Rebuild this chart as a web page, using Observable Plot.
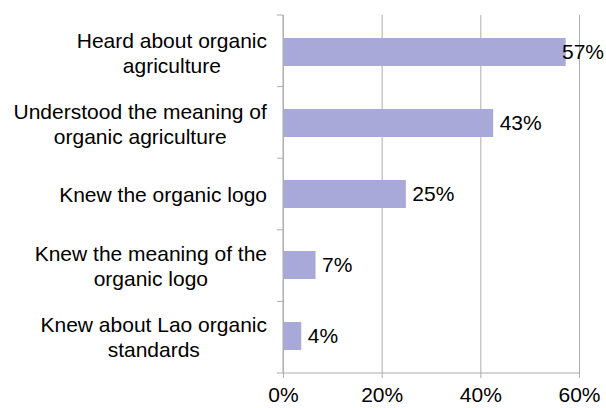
<!DOCTYPE html>
<html>
<head>
<meta charset="utf-8">
<script src="https://cdn.jsdelivr.net/npm/d3@7"></script>
<script src="https://cdn.jsdelivr.net/npm/@observablehq/plot@0.6"></script>
<style>
  body { margin: 0; background: #fff; }
  #chart svg { display: block; }
</style>
</head>
<body>
<div id="chart"></div>
<script>
// Data
const categories = [
  "Heard about organic\nagriculture",
  "Understood the meaning of\norganic agriculture",
  "Knew the organic logo",
  "Knew the meaning of the\norganic logo",
  "Knew about Lao organic\nstandards"
];
const values = [57.3, 42.6, 24.9, 6.6, 3.7];
const valueLabels = ["57%", "43%", "25%", "7%", "4%"];
const xTicks = [0, 20, 40, 60];
const xDomain = [0, 60];

const data = categories.map((c, i) => ({category: c, value: values[i], label: valueLabels[i]}));

const gray = "#adadad";
const font = "'Liberation Sans', Arial, sans-serif";
const fs = 21;

const frameMark = (index, scales, vals, dims) => {
  const g = d3.create("svg:g").attr("stroke", gray).attr("stroke-width", 1).attr("fill", "none");
  const top = dims.marginTop, bottom = dims.height - dims.marginBottom;
  const x0 = scales.x(xDomain[0]), x1 = scales.x(xDomain[1]);
  const n = categories.length, step = (bottom - top) / n;
  for (let k = 0; k <= n; k++) {
    const yy = top + k * step;
    g.append("line").attr("x1", x0 - 6).attr("x2", x0).attr("y1", yy).attr("y2", yy);
  }
  g.append("line").attr("x1", x0).attr("x2", x1).attr("y1", bottom).attr("y2", bottom);
  g.append("line").attr("x1", x0).attr("x2", x0).attr("y1", top).attr("y2", bottom);
  return g.node();
};

const chart = Plot.plot({
  width: 606,
  height: 408,
  marginLeft: 283,
  marginRight: 27,
  marginTop: 15,
  marginBottom: 35,
  style: {fontFamily: font, fontSize: fs + "px", color: "#000", background: "#fff", overflow: "visible"},
  x: {domain: xDomain, label: null},
  y: {domain: categories, paddingInner: 0.6, paddingOuter: 0.3, label: null},
  marks: [
    Plot.gridX(xTicks, {stroke: gray, strokeOpacity: 1}),
    Plot.barX(data, {x: "value", y: "category", fill: "#a9a9d9"}),
    frameMark,
    Plot.axisX(xTicks, {tickSize: 5, tickPadding: 9, stroke: gray, strokeOpacity: 1, tickFormat: d => d + "%", fontSize: fs, label: null}),
    Plot.axisY({tickSize: 0, tickPadding: 0, textAnchor: "middle", lineHeight: 1.18, fontSize: fs, label: null}),
    Plot.text(data, {x: "value", y: "category", text: "label", textAnchor: "start", dx: 6, fontSize: fs, fill: "#000"})
  ]
});

document.getElementById("chart").appendChild(chart);

// Layout adjustment: right-align each (centered multi-line) category label block
const svgRect = chart.getBoundingClientRect();
chart.querySelectorAll('[aria-label="y-axis tick label"] text').forEach(t => {
  const r = t.getBoundingClientRect();
  const shift = 267 - (r.right - svgRect.left);
  t.setAttribute("transform", (t.getAttribute("transform") || "") + ` translate(${shift},0)`);
});
// Keep value labels inside the canvas
chart.querySelectorAll('[aria-label="text"] text').forEach(t => {
  const r = t.getBoundingClientRect();
  const over = (r.right - svgRect.left) - 604;
  if (over > 0) t.setAttribute("transform", (t.getAttribute("transform") || "") + ` translate(${-over},0)`);
});
</script>
</body>
</html>
